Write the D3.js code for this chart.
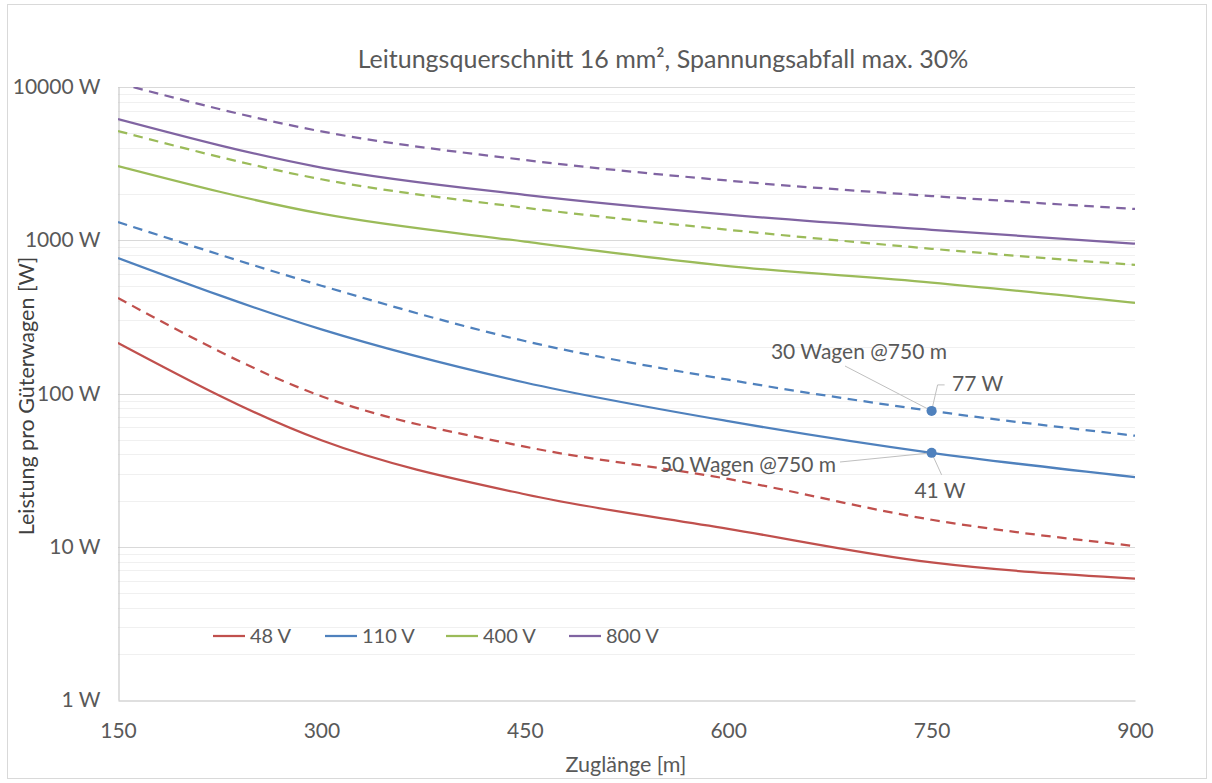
<!DOCTYPE html>
<html>
<head>
<meta charset="utf-8">
<script src="https://cdn.jsdelivr.net/npm/d3@7/dist/d3.min.js"></script>
<style>
  html, body { margin: 0; padding: 0; background: #fff; }
  svg text { font-family: Lato, "Open Sans", sans-serif; fill: #595959; }
</style>
</head>
<body>
<svg id="chart" width="1212" height="783"></svg>
<script>
// ---- data ----
const lengths   = [150, 300, 450, 600, 750, 900];               // Zuglänge [m]
const v48       = [214, 49.5, 22, 13.1, 7.9, 6.2];              // 48 V, 50 Wagen
const v48dash   = [420, 96, 45, 27.7, 15, 10.1];                // 48 V, 30 Wagen
const v110      = [766, 262, 118, 66, 41, 28.5];                // 110 V
const v110dash  = [1315, 505, 220, 123, 77, 53];
const v400      = [3050, 1490, 980, 679, 530, 390];             // 400 V
const v400dash  = [5160, 2500, 1630, 1170, 880, 690];
const v800      = [6180, 2980, 1980, 1470, 1170, 950];          // 800 V
const v800dash  = [10600, 5130, 3340, 2450, 1944, 1600];
const legendLabels = ["48 V", "110 V", "400 V", "800 V"];
const xTicks = [150, 300, 450, 600, 750, 900];
const yTicks = [1, 10, 100, 1000, 10000];
const yTickLabels = ["1 W", "10 W", "100 W", "1000 W", "10000 W"];
const markers = [
  { x: 750, y: 77, label: "77 W", note: "30 Wagen @750 m" },
  { x: 750, y: 41, label: "41 W", note: "50 Wagen @750 m" }
];

const colors = ["#c0504d", "#4f81bd", "#9bbb59", "#8064a2"];
const series = [
  { values: v48dash, c: 0, dash: true },
  { values: v48, c: 0, dash: false },
  { values: v110dash, c: 1, dash: true },
  { values: v110, c: 1, dash: false },
  { values: v400dash, c: 2, dash: true },
  { values: v400, c: 2, dash: false },
  { values: v800dash, c: 3, dash: true },
  { values: v800, c: 3, dash: false }
];

const svg = d3.select("#chart");
const L = 118, R = 1135, T = 87, B = 700;
const x = d3.scaleLinear().domain([150, 900]).range([L, R]);
const y = d3.scaleLog().domain([1, 10000]).range([B, T]);

// outer border
svg.append("rect").attr("x", 7.5).attr("y", 4.5).attr("width", 1199).attr("height", 774)
  .attr("fill", "#fff").attr("stroke", "#d9d9d9");

// minor gridlines
const minor = [];
for (let d = 1; d < 10000; d *= 10) for (let k = 2; k <= 9; k++) minor.push(d * k);
svg.append("g").selectAll("line").data(minor).join("line")
  .attr("x1", L).attr("x2", R).attr("y1", d => Math.round(y(d)) + 0.5).attr("y2", d => Math.round(y(d)) + 0.5)
  .attr("stroke", "#f0f0f0").attr("stroke-width", 1);
// major gridlines
svg.append("g").selectAll("line").data(yTicks.slice(1)).join("line")
  .attr("x1", L).attr("x2", R).attr("y1", d => Math.round(y(d)) + 0.5).attr("y2", d => Math.round(y(d)) + 0.5)
  .attr("stroke", "#d9d9d9").attr("stroke-width", 1);

// axes
const xAxis = d3.axisBottom(x).tickValues(xTicks).tickSize(0).tickPadding(23).tickFormat(d3.format("d"));
const gx = svg.append("g").attr("transform", `translate(0,${B + 0.5})`).call(xAxis);
gx.select(".domain").attr("stroke", "#bfbfbf");
gx.selectAll("text").style("font-size", "21px").attr("fill", "#595959");

const yAxis = d3.axisLeft(y).tickValues(yTicks).tickSize(0).tickPadding(18)
  .tickFormat((d, i) => yTickLabels[i]);
const gy = svg.append("g").attr("transform", `translate(${L + 0.5},0)`).call(yAxis);
gy.select(".domain").attr("stroke", "#bfbfbf");
gy.selectAll("text").style("font-size", "21px").attr("fill", "#595959");

// clip
svg.append("clipPath").attr("id", "plot").append("rect")
  .attr("x", L).attr("y", T).attr("width", R - L).attr("height", B - T);

const line = d3.line().x((d, i) => x(lengths[i])).y(d => y(d)).curve(d3.curveMonotoneX);
const gl = svg.append("g").attr("clip-path", "url(#plot)");
series.forEach(s => {
  gl.append("path").attr("d", line(s.values)).attr("fill", "none")
    .attr("stroke", colors[s.c]).attr("stroke-width", 2.25)
    .attr("stroke-dasharray", s.dash ? "9.5,6.5" : null);
});

// markers & annotations
const m0 = markers[0], m1 = markers[1];
const ann = svg.append("g");
const leader = (x1, y1, x2, y2) => ann.append("line").attr("x1", x1).attr("y1", y1).attr("x2", x2).attr("y2", y2)
  .attr("stroke", "#bfbfbf").attr("stroke-width", 1);
const px0 = x(m0.x), py0 = y(m0.y), px1 = x(m1.x), py1 = y(m1.y);
leader(845, 366, px0, py0);
ann.append("polyline").attr("points", `${px0},${py0} ${px0 + 6},${py0 - 26} ${px0 + 13},${py0 - 26}`)
  .attr("fill", "none").attr("stroke", "#bfbfbf");
leader(840, 462, px1, py1);
leader(px1, py1, px1 + 10, py1 + 22);
markers.forEach(m => {
  ann.append("circle").attr("cx", x(m.x)).attr("cy", y(m.y)).attr("r", 5).attr("fill", colors[1]);
});
ann.append("text").attr("x", 859).attr("y", 359).attr("text-anchor", "middle").style("font-size", "21px").text(m0.note);
ann.append("text").attr("x", 952).attr("y", 391).style("font-size", "21px").text(m0.label);
ann.append("text").attr("x", 748).attr("y", 472).attr("text-anchor", "middle").style("font-size", "21px").text(m1.note);
ann.append("text").attr("x", 940).attr("y", 498).attr("text-anchor", "middle").style("font-size", "21px").text(m1.label);

// legend
const legendX = [213, 325, 446, 569];
const lg = svg.append("g");
legendLabels.forEach((t, i) => {
  lg.append("line").attr("x1", legendX[i]).attr("x2", legendX[i] + 32).attr("y1", 636).attr("y2", 636)
    .attr("stroke", colors[i]).attr("stroke-width", 2.25);
  lg.append("text").attr("x", legendX[i] + 37).attr("y", 643).style("font-size", "20px").text(t);
});

// titles
svg.append("text").attr("x", 663).attr("y", 68).attr("text-anchor", "middle")
  .style("font-size", "25px").text("Leitungsquerschnitt 16 mm², Spannungsabfall max. 30%");
svg.append("text").attr("x", 626).attr("y", 772).attr("text-anchor", "middle")
  .style("font-size", "21.5px").text("Zuglänge [m]");
svg.append("text").attr("transform", "translate(34,396) rotate(-90)").attr("text-anchor", "middle")
  .style("font-size", "21.5px").style("fill", "#404040").text("Leistung pro Güterwagen [W]");
</script>
</body>
</html>
